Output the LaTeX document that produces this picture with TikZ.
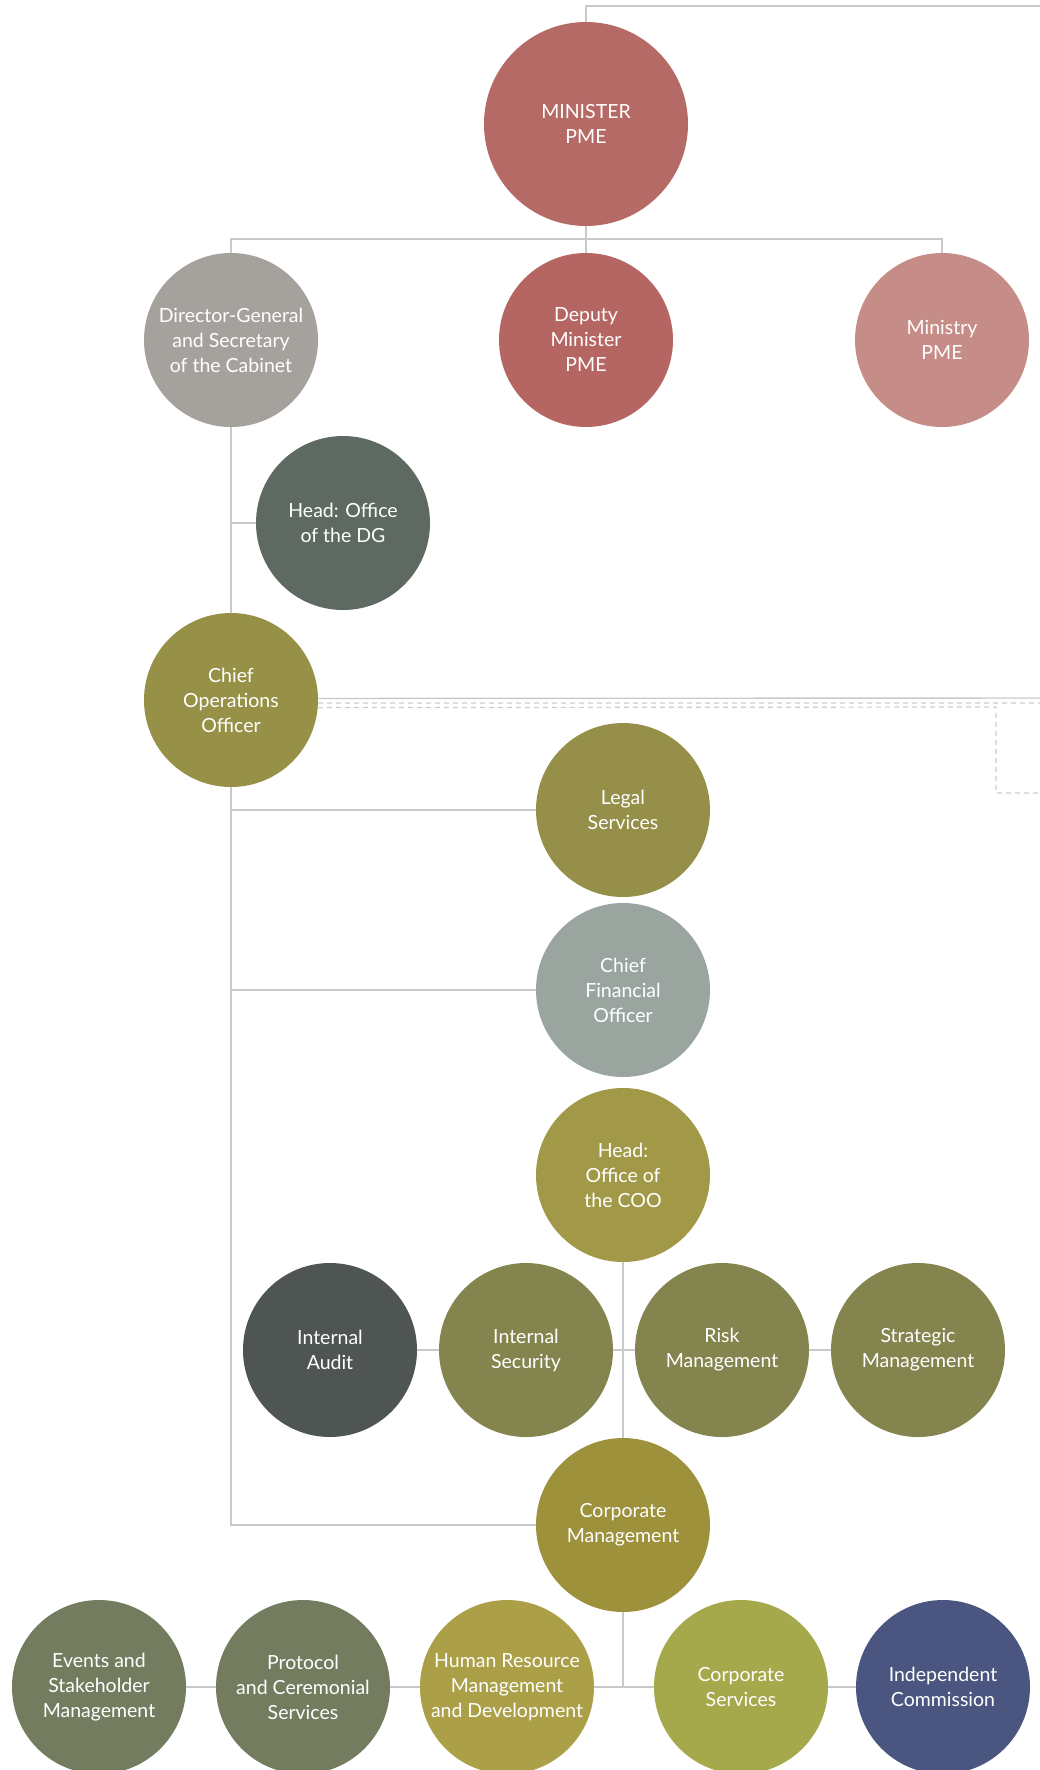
\documentclass[tikz,border=0pt]{standalone}
\usepackage{fontspec}
\setmainfont{Lato}
\usetikzlibrary{calc}
\definecolor{linegray}{HTML}{C9C9C9}
\definecolor{dashgray}{HTML}{CDCDCD}
\definecolor{cMin}{HTML}{B56A65}
\definecolor{cDep}{HTML}{B56662}
\definecolor{cMinistry}{HTML}{C68D88}
\definecolor{cDG}{HTML}{A5A19C}
\definecolor{cHDG}{HTML}{5E6962}
\definecolor{cCOO}{HTML}{969147}
\definecolor{cLegal}{HTML}{958F4A}
\definecolor{cCFO}{HTML}{9AA5A0}
\definecolor{cHCOO}{HTML}{A19848}
\definecolor{cAudit}{HTML}{4F5552}
\definecolor{cRow}{HTML}{84844F}
\definecolor{cCorpM}{HTML}{9D913B}
\definecolor{cEvents}{HTML}{737C5F}
\definecolor{cHR}{HTML}{ABA047}
\definecolor{cCorpS}{HTML}{A6A84C}
\definecolor{cIndep}{HTML}{4A567F}
\begin{document}
\begin{tikzpicture}[x=1pt,y=-1pt,
  org/.style={circle,minimum size=174pt,inner sep=0pt,text=white,align=center,
    font=\fontsize{19.5}{25}\selectfont},
  link/.style={draw=linegray,line width=1.4pt},
  dlink/.style={draw=dashgray,line width=1.2pt,dash pattern=on 5pt off 4pt}]
\useasboundingbox (0,0) rectangle (1040,1770);
% coordinates for free ends
\coordinate (topR) at (1040,6);
\coordinate (j1) at (586,239);
\coordinate (eR1) at (1040,698);
\coordinate (eR2) at (1040,703);
\coordinate (boxA) at (996,707);
\coordinate (boxB) at (996,793);
\coordinate (boxC) at (1040,793);
% nodes
\node[org,fill=cMin,minimum size=204pt] (minister) at (586,124) {MINISTER\\PME};
\node[org,fill=cDG] (dg) at (231,340) {Director-General\\and Secretary\\of the Cabinet};
\node[org,fill=cDep] (deputy) at (586,340) {Deputy\\Minister\\PME};
\node[org,fill=cMinistry] (ministry) at (942,340) {Ministry\\PME};
\node[org,fill=cHDG] (hdg) at (343,523) {Head: Office\\of the DG};
\node[org,fill=cCOO] (coo) at (231,700) {Chief\\Operations\\Officer};
\node[org,fill=cLegal] (legal) at (623,810) {Legal\\Services};
\node[org,fill=cCFO] (cfo) at (623,990) {Chief\\Financial\\Officer};
\node[org,fill=cHCOO] (hcoo) at (623,1175) {Head:\\Office of\\the COO};
\node[org,fill=cAudit] (audit) at (330,1350) {Internal\\Audit};
\node[org,fill=cRow] (security) at (526,1350) {Internal\\Security};
\node[org,fill=cRow] (risk) at (722,1350) {Risk\\Management};
\node[org,fill=cRow] (strategic) at (918,1350) {Strategic\\Management};
\node[org,fill=cCorpM] (corpm) at (623,1525) {Corporate\\Management};
\node[org,fill=cEvents] (events) at (99,1687) {Events and\\Stakeholder\\Management};
\node[org,fill=cEvents] (protocol) at (303,1687) {Protocol\\and Ceremonial\\Services};
\node[org,fill=cHR] (hr) at (507,1687) {Human Resource\\Management\\and Development};
\node[org,fill=cCorpS] (corps) at (741,1687) {Corporate\\Services};
\node[org,fill=cIndep] (indep) at (943,1687) {Independent\\Commission};
% connectors
\draw[link] (minister.north) |- (topR);
\draw[link] (minister.south) -- (deputy.north);
\draw[link] (dg.north) |- (j1) -| (ministry.north);
\draw[link] (dg.south) -- (coo.north);
\draw[link] (hdg.west) -- (hdg.west -| dg.south);
\draw[link] (coo.south) |- (corpm.west);
\draw[link] (legal.west) -- (legal.west -| coo.south);
\draw[link] (cfo.west) -- (cfo.west -| coo.south);
\draw[link] (coo.1) -- (eR1);
\draw[dlink] (coo.-2) -- (eR2);
\draw[dlink] (coo.-5) -- (boxA) -- (boxB) -- (boxC);
\draw[link] (hcoo.south) -- (corpm.north);
\draw[link] (audit.east) -- (security.west);
\draw[link] (security.east) -- (risk.west);
\draw[link] (risk.east) -- (strategic.west);
\draw[link] (corpm.south) -- (corpm.south |- hr.east);
\draw[link] (hr.east) -- (corps.west);
\draw[link] (events.east) -- (protocol.west);
\draw[link] (protocol.east) -- (hr.west);
\draw[link] (corps.east) -- (indep.west);
\end{tikzpicture}
\end{document}
